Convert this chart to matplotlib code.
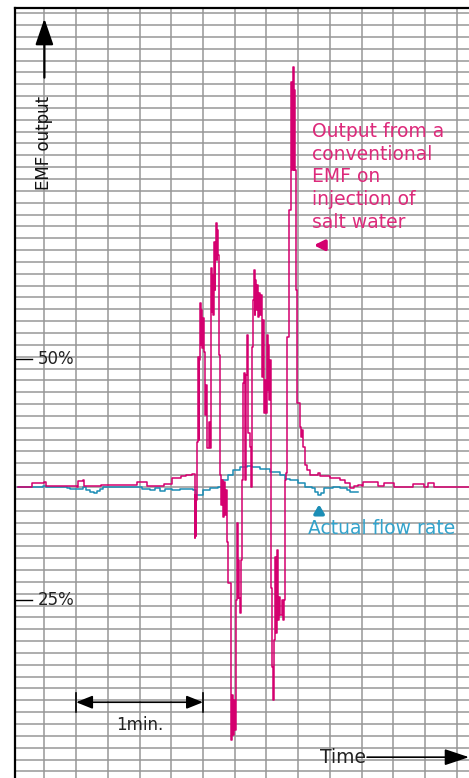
import numpy as np
import matplotlib
matplotlib.use('Agg')
import matplotlib.pyplot as plt

# time in seconds (one grid column = 15 s), output in %
emf_time = [-12.4, -6.3, -5.8, -0.1, 0.8, 15.5, 15.9, 18.3, 18.8, 26.3, 26.8, 43.4, 43.8, 48.1, 48.6,
            56.1, 56.6, 59.4, 60.4, 64.6, 67.0, 69.8, 70.8,
            71.3, 71.3, 71.7, 71.7, 72.2, 72.7, 73.2, 73.2, 73.6, 74.1, 74.1, 74.6, 75.1, 75.5, 76.0,
            76.5, 76.9, 77.9, 78.4, 78.8, 79.3, 79.3, 79.8, 80.3, 80.7, 80.7, 81.2, 81.7, 81.7, 82.1,
            82.6, 83.1, 83.6,
            84.0, 84.5, 85.0, 85.5, 85.9, 86.4, 86.9, 87.8, 88.3, 88.8, 89.2, 89.7, 90.2, 90.7, 91.1,
            91.6, 91.6, 92.1, 92.5, 93.0, 93.5, 94.0, 94.4, 94.9, 95.4, 95.9, 96.3, 97.3, 97.7, 98.2,
            98.7, 99.2, 99.6, 99.6, 100.1, 100.6, 101.1, 101.5, 102.0, 102.5, 103.0, 103.4, 103.9,
            104.4, 104.8, 105.3, 105.8, 105.8, 106.3, 106.7, 107.2,
            107.2, 107.7, 108.2, 108.6, 109.1, 109.6, 110.1, 110.5, 111.0, 111.5, 112.4, 112.9, 113.4,
            113.8, 114.3, 114.8, 115.7, 116.7, 117.1, 117.6, 118.1, 118.1, 118.6, 119.0, 119.5, 120.9,
            121.4, 121.9, 122.3, 123.3, 124.2, 125.6, 128.0, 129.4, 130.4, 135.1, 139.8, 142.2, 144.6,
            146.5, 148.3, 150.2, 150.7, 157.3, 157.8, 160.2, 160.6, 164.9, 165.4, 173.9, 174.4, 179.1,
            179.6, 181.0, 181.5, 183.8, 184.3, 200.8]
emf_output = [36.7, 36.7, 37.1, 37.2, 36.8, 36.7, 37.3, 37.4, 36.8, 36.8, 36.9, 36.9, 37.2, 37.2, 36.8,
              36.8, 37.0, 37.0, 37.7, 37.9, 38.0, 38.1, 38.1,
              31.4, 35.9, 31.6, 35.4, 41.4, 50.2, 41.6, 49.9, 55.8, 51.5, 55.1, 51.1, 54.3, 50.7, 44.2,
              47.3, 40.8, 43.5, 40.8, 59.4, 54.9, 58.7, 54.6, 62.1, 57.2, 61.3, 64.1, 60.3, 63.4, 60.8,
              50.4, 38.0, 34.9,
              37.4, 33.6, 37.2, 33.8, 36.4, 31.0, 26.8, 26.8, 10.5, 15.1, 11.0, 14.6, 11.5, 25.0, 33.0,
              25.2, 29.2, 25.2, 23.7, 29.2, 37.4, 47.5, 48.5, 37.4, 48.3, 52.5, 42.3, 40.9, 36.7, 51.2,
              56.1, 59.2, 54.6, 58.2, 55.1, 57.7, 54.4, 56.8, 54.6, 56.6, 48.1, 54.0, 44.4,
              47.8, 44.4, 52.5, 46.8, 51.5, 45.7, 49.9, 34.3,
              26.3, 18.1, 14.6, 20.9, 29.5, 21.6, 30.2, 22.9, 25.3, 23.4, 25.0, 22.9, 25.0,
              37.4, 38.2, 52.3, 65.5, 78.7, 69.6, 80.3, 69.6, 77.9, 69.6, 57.2, 45.4, 42.9,
              41.9, 42.6, 40.9, 39.0, 38.5, 38.0, 38.0, 38.2, 37.9, 37.7, 37.4, 37.1, 36.6,
              36.8, 36.9, 36.8, 37.2, 37.2, 36.8, 36.8, 37.1, 37.1, 36.7, 36.7, 37.0, 37.0,
              36.7, 36.7, 37.1, 37.1, 36.7, 36.7]

flow_time = [-12.4, -2.0, -0.6, 0.8, 10.7, 12.2, 16.9, 18.3, 19.7, 21.6, 23.5, 24.9, 26.3, 27.8, 45.3,
             46.2, 50.0, 52.4, 54.7, 57.1, 60.4, 64.2, 70.3, 71.7, 73.6, 75.1, 78.4, 82.1, 84.0, 86.9,
             89.2, 92.5, 95.9, 98.2, 102.0, 106.7, 111.5, 113.8, 116.2, 120.0, 123.3, 126.6, 128.0,
             129.4, 130.9, 132.3, 136.5, 139.8, 143.1, 144.6, 148.3]
flow_output = [36.7, 36.7, 36.8, 36.7, 36.6, 36.5, 36.5, 36.7, 36.4, 36.2, 36.1, 36.3, 36.5, 36.7, 36.7,
               36.5, 36.4, 36.6, 36.3, 36.5, 36.4, 36.5, 36.4, 35.9, 35.9, 36.4, 36.6, 36.7, 37.4, 38.0,
               38.5, 38.8, 38.9, 38.8, 38.6, 38.3, 38.0, 37.6, 37.4, 37.1, 36.7, 36.6, 36.2,
               35.9, 36.1, 36.6, 36.7, 36.6, 36.4, 36.2, 36.2]

pct_ticks = [50, 25]
pct_labels = ['50%', '25%']

emf_col = '#d4006f'
emf_txt = '#dd2a7b'
flow_col = '#1b8db5'
flow_txt = '#33a3cc'

fig = plt.figure(figsize=(4.69, 7.78), dpi=100)
ax = fig.add_axes([15/469, 0, 454/469, 770/778])
ax.set_xlim(-13.9, 200.8)
ax.set_ylim(6.54, 86.41)

# chart paper grid
ax.set_xticks(np.arange(0, 200, 15))
ax.set_yticks(36.72 + 1.229*np.arange(-24, 41))
ax.grid(True, color='#979797', lw=1.1)
ax.set_axisbelow(True)
ax.tick_params(length=0, labelbottom=False, labelleft=False)
for s in ['right', 'bottom']:
    ax.spines[s].set_visible(False)
for s in ['left', 'top']:
    ax.spines[s].set_linewidth(1.6)

ax.plot(flow_time, flow_output, color=flow_col, lw=1.1, drawstyle='steps-post', zorder=3)
ax.plot(emf_time, emf_output, color=emf_col, lw=1.1, drawstyle='steps-post', zorder=4)

# percent marks on the left edge
for p, lab in zip(pct_ticks, pct_labels):
    ax.plot([-13.9, -5.8], [p, p], color='black', lw=1.0, clip_on=False, zorder=5)
    ax.text(-3.0, p, lab, fontsize=12, color='#222222', va='center', ha='left', zorder=5)

# y axis arrow + label
ax.annotate('', xy=(0, 85.6), xytext=(0, 78.9),
            arrowprops=dict(arrowstyle='-|>,head_length=1.6,head_width=0.55', color='black', lw=1.6))
ax.text(0, 72.4, 'EMF output', rotation=90, fontsize=12, color='#111111', ha='center', va='center')

# annotations
ax.text(126.7, 74.6, 'Output from a\nconventional\nEMF on\ninjection of\nsalt water',
        fontsize=13.5, color=emf_txt, ha='left', va='top', linespacing=1.25)
ax.annotate('', xy=(126.1, 61.8), xytext=(133.7, 61.8),
            arrowprops=dict(arrowstyle='-|>,head_length=0.6,head_width=0.3', color=emf_col, lw=2.5))
ax.text(124.8, 32.4, 'Actual flow rate', fontsize=13.5, color=flow_txt, ha='left', va='center')
ax.annotate('', xy=(129.9, 35.2), xytext=(129.9, 33.9),
            arrowprops=dict(arrowstyle='-|>,head_length=0.5,head_width=0.3', color=flow_col, lw=2.5))

# one minute scale bar
ax.annotate('', xy=(15, 14.4), xytext=(75, 14.4),
            arrowprops=dict(arrowstyle='<|-|>,head_length=1.0,head_width=0.4', color='black', lw=1.2,
                            shrinkA=0, shrinkB=0))
ax.plot([15, 15], [13.4, 15.4], color='black', lw=1.2)
ax.plot([75, 75], [13.4, 15.4], color='black', lw=1.2)
ax.text(45, 12.0, '1min.', fontsize=12, color='#222222', ha='center', va='center')

# time axis arrow
ax.text(130.4, 8.7, 'Time', fontsize=13.5, color='#222222', ha='left', va='center')
ax.annotate('', xy=(200.8, 8.7), xytext=(152.6, 8.7),
            arrowprops=dict(arrowstyle='-|>,head_length=1.5,head_width=0.5', color='black', lw=1.2,
                            shrinkA=0, shrinkB=0), annotation_clip=False)

fig.savefig('out.png', dpi=100)
